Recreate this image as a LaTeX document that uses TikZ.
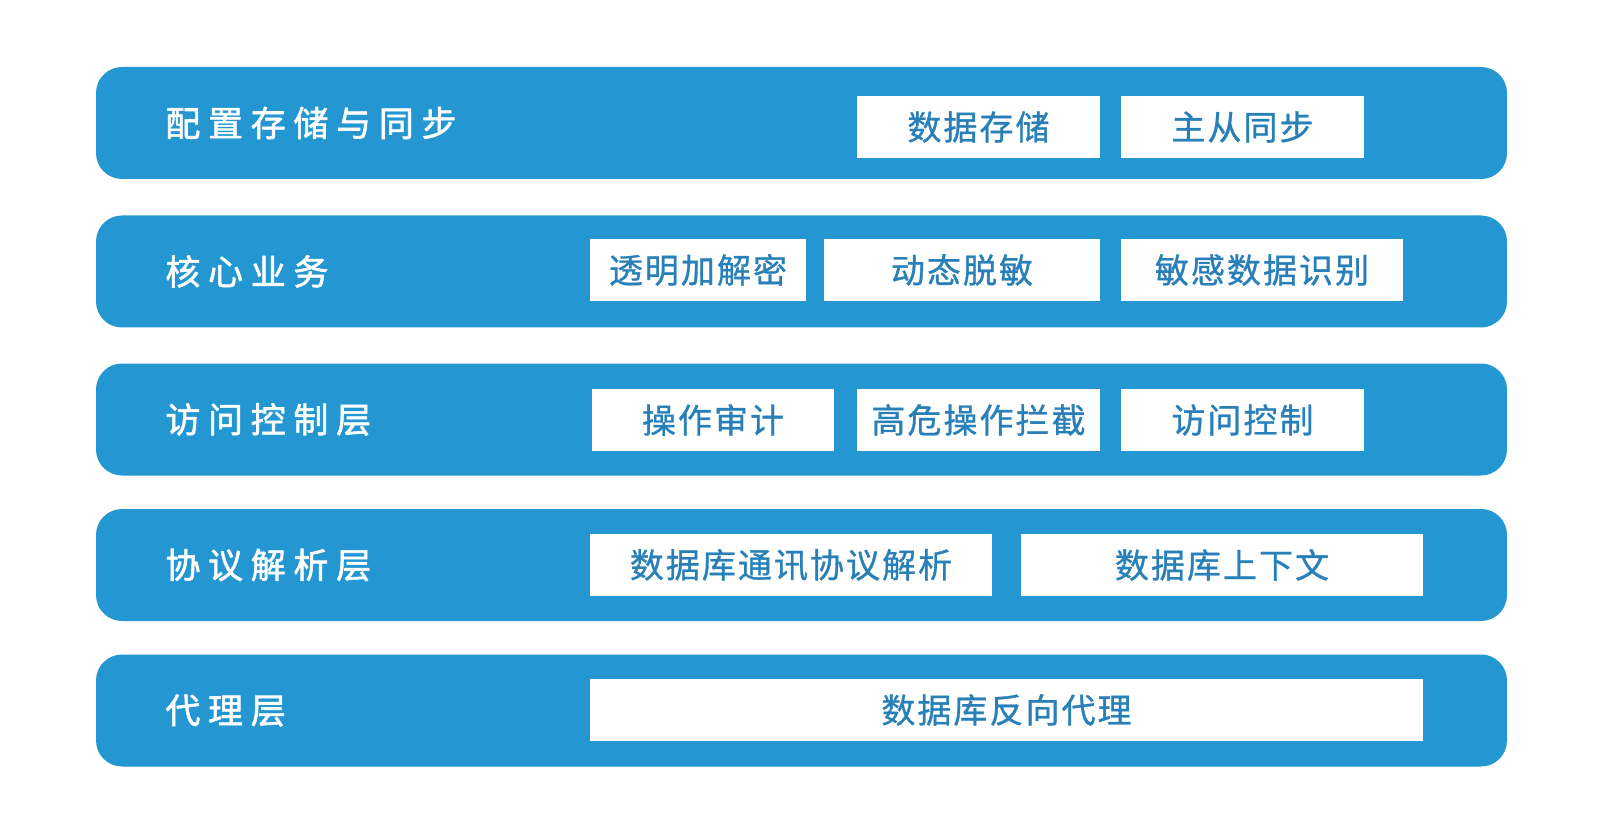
\documentclass[tikz,border=0pt]{standalone}
\usepackage{fontspec}
\newfontfamily\bandfont[LetterSpace=22,FakeBold=1.6]{Noto Sans CJK SC}
\newfontfamily\cellfont[LetterSpace=6,FakeBold=0.9]{Noto Sans CJK SC}
\definecolor{bandblue}{RGB}{36,151,211}
\definecolor{cellblue}{RGB}{41,128,185}
\begin{document}
\begin{tikzpicture}[x=0.5pt, y=-0.5pt, line join=round,
  bandlabel/.style={anchor=west, inner sep=0pt, text=white, font=\bandfont\fontsize{17.5pt}{20pt}\selectfont},
  cell/.style={fill=white, inner sep=0pt, minimum height=31pt, text=cellblue, font=\cellfont\fontsize{17pt}{20pt}\selectfont}]
\def\wide{121.5pt}
\useasboundingbox (0,0) rectangle (1601,834);
% layers
\foreach \yc/\nm/\txt in {123/cfg/配置存储与同步, 271.5/core/核心业务, 419.5/acl/访问控制层, 565/proto/协议解析层, 710.5/proxy/代理层}{
  \fill[bandblue, rounded corners=13pt] (96,\yc-56) rectangle (1507,\yc+56);
  \node[bandlabel] (\nm) at (165,\yc) {\txt};
}
% config storage and sync
\node[cell, minimum width=\wide] (store) at (978.5,127) {数据存储};
\node[cell, minimum width=\wide] (sync) at (1242.5,127) {主从同步};
% core business
\node[cell, minimum width=108pt] (crypt) at (698,270) {透明加解密};
\node[cell, minimum width=138pt] (mask) at (962,270) {动态脱敏};
\node[cell, minimum width=141pt] (detect) at (1262,270) {敏感数据识别};
% access control
\node[cell, minimum width=121pt] (audit) at (713,420) {操作审计};
\node[cell, minimum width=\wide] (block) at (978.5,420) {高危操作拦截};
\node[cell, minimum width=\wide] (access) at (1242.5,420) {访问控制};
% protocol parsing
\node[cell, minimum width=201pt] (parse) at (791,565) {数据库通讯协议解析};
\node[cell, minimum width=201pt] (ctx) at (1222,565) {数据库上下文};
% proxy
\node[cell, minimum width=416.5pt] (rproxy) at (1006.5,710) {数据库反向代理};
\end{tikzpicture}
\end{document}
